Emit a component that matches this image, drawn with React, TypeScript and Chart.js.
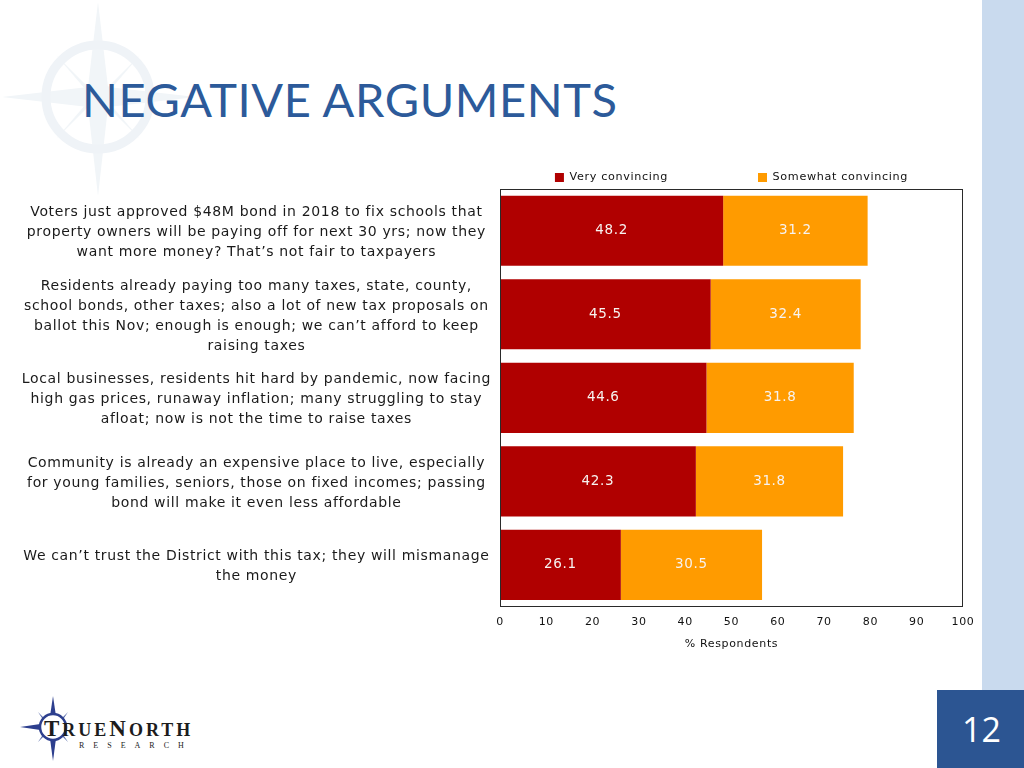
import React, { useEffect, useRef } from "react";
import { Chart, registerables } from "chart.js";

Chart.register(...registerables);

// ---------- data ----------
const categories: string[][] = [
  [
    "Voters just approved $48M bond in 2018 to fix schools that",
    "property owners will be paying off for next 30 yrs; now they",
    "want more money? That’s not fair to taxpayers",
  ],
  [
    "Residents already paying too many taxes, state, county,",
    "school bonds, other taxes; also a lot of new tax proposals on",
    "ballot this Nov; enough is enough; we can’t afford to keep",
    "raising taxes",
  ],
  [
    "Local businesses, residents hit hard by pandemic, now facing",
    "high gas prices, runaway inflation; many struggling to stay",
    "afloat; now is not the time to raise taxes",
  ],
  [
    "Community is already an expensive place to live, especially",
    "for young families, seniors, those on fixed incomes; passing",
    "bond will make it even less affordable",
  ],
  [
    "We can’t trust the District with this tax; they will mismanage",
    "the money",
  ],
];
const veryConvincing: number[] = [48.2, 45.5, 44.6, 42.3, 26.1];
const somewhatConvincing: number[] = [31.2, 32.4, 31.8, 31.8, 30.5];
const seriesNames: string[] = ["Very convincing", "Somewhat convincing"];
const xMin = 0;
const xMax = 100;
const xStep = 10;
const xTitle = "% Respondents";
const pageTitle = "NEGATIVE ARGUMENTS";
const pageNumber = "12";

const RED = "#b00000";
const ORANGE = "#ff9b00";
const FONT = "'DejaVu Sans', sans-serif";
const LS = "0.65px";

const textSpacing = {
  id: "textSpacing",
  beforeLayout(chart: any) {
    chart.ctx.letterSpacing = LS;
    const lg = chart.legend;
    if (lg && !lg.__trim) {
      const orig = lg.fit;
      lg.fit = function (this: any) {
        orig.call(this);
        this.height = Math.max(0, this.height - 4);
      };
      lg.__trim = true;
    }
  },
  beforeDraw(chart: any) {
    chart.ctx.letterSpacing = LS;
  },
};

const barLabels = {
  id: "barLabels",
  afterDatasetsDraw(chart: any) {
    const ctx = chart.ctx;
    ctx.save();
    ctx.font = `13.5px ${FONT}`;
    ctx.fillStyle = "#f7f3f0";
    ctx.textAlign = "center";
    ctx.textBaseline = "middle";
    chart.data.datasets.forEach((ds: any, di: number) => {
      const meta = chart.getDatasetMeta(di);
      meta.data.forEach((bar: any, i: number) => {
        const p = bar.getProps(["x", "y", "base"], true);
        ctx.fillText(Number(ds.data[i]).toFixed(1), (p.x + p.base) / 2, p.y);
      });
    });
    ctx.restore();
  },
};

const areaBorder = {
  id: "areaBorder",
  afterDatasetsDraw(chart: any) {
    const { left, top, right, bottom } = chart.chartArea;
    const ctx = chart.ctx;
    ctx.save();
    ctx.strokeStyle = "#2a2a2a";
    ctx.lineWidth = 1;
    ctx.strokeRect(Math.round(left) + 0.5, Math.round(top) + 0.5, Math.round(right - left) - 1, Math.round(bottom - top) - 1);
    ctx.restore();
  },
};

function ChartBox() {
  const ref = useRef<HTMLCanvasElement | null>(null);
  useEffect(() => {
    if (!ref.current) return;
    const chart = new Chart(ref.current, {
      type: "bar",
      data: {
        labels: categories,
        datasets: [
          {
            label: seriesNames[0],
            data: veryConvincing,
            backgroundColor: RED,
            borderWidth: 0,
            categoryPercentage: 1,
            barPercentage: 0.84,
          },
          {
            label: seriesNames[1],
            data: somewhatConvincing,
            backgroundColor: ORANGE,
            borderWidth: 0,
            categoryPercentage: 1,
            barPercentage: 0.84,
          },
        ],
      },
      options: {
        indexAxis: "y",
        responsive: false,
        animation: false,
        devicePixelRatio: 1,
        layout: { padding: { left: 0, right: 27, top: 0, bottom: 0 } },
        plugins: {
          tooltip: { enabled: false },
          legend: {
            display: true,
            position: "top",
            fullSize: false,
            align: "center",
            labels: {
              boxWidth: 9,
              boxHeight: 9,
              padding: 10,
              color: "#111",
              font: { family: FONT, size: 11.2 },
              generateLabels: (chart: any) => {
                const items = Chart.defaults.plugins.legend.labels.generateLabels(chart);
                return items.map((it: any, i: number) => ({
                  ...it,
                  text: i === 0 ? it.text + "\u00a0".repeat(19) : it.text,
                  lineWidth: 0,
                }));
              },
            },
          },
        },
        scales: {
          x: {
            stacked: true,
            min: xMin,
            max: xMax,
            grid: { display: false, drawTicks: false },
            border: { display: false },
            ticks: {
              stepSize: xStep,
              padding: 9,
              color: "#111",
              font: { family: FONT, size: 11 },
            },
            title: {
              display: true,
              text: xTitle,
              color: "#111",
              font: { family: FONT, size: 11 },
              padding: { top: 0, bottom: 6 },
            },
          },
          y: {
            stacked: true,
            grid: { display: false, drawTicks: false },
            border: { display: false },
            afterFit: (scale: any) => {
              scale.width = 500;
            },
            ticks: {
              autoSkip: false,
              crossAlign: "center",
              padding: 9,
              labelOffset: 2,
              color: "#1a1a1a",
              font: { family: FONT, size: 14, lineHeight: 1.43 },
            },
          },
        },
      },
      plugins: [textSpacing, barLabels, areaBorder],
    } as any);
    return () => chart.destroy();
  }, []);
  return <canvas ref={ref} width={990} height={497} style={{ display: "block" }} />;
}

function Watermark() {
  return (
    <svg width={200} height={200} style={{ position: "absolute", left: 0, top: 0 }}>
      <g fill="#f1f5f8" stroke="none">
        <polygon points="98,2 108,87 196,97 108,107 98,196 88,107 2,97 88,87" />
        <polygon points="98,97 140,55 104,97 140,139 98,97 56,139 92,97 56,55" />
      </g>
      <circle cx={98} cy={97} r={52} fill="none" stroke="#eff3f7" strokeWidth={9} />
    </svg>
  );
}

function Logo() {
  return (
    <div style={{ position: "absolute", left: 0, top: 690, width: 210, height: 78 }}>
      <svg width={90} height={78} style={{ position: "absolute", left: 0, top: 0 }}>
        <polygon points="53,6 57,33 53,37 49,33" fill="#2d3f8e" />
        <polygon points="53,71 57,41 53,37 49,41" fill="#2d3f8e" />
        <polygon points="20,37 47,33 53,37 47,41" fill="#2d3f8e" />
        <polygon points="53,37 68,22 58,37 68,52 53,37 38,52 48,37 38,22" fill="#5a6cab" />
        <circle cx={53} cy={37} r={13} fill="#ffffff" stroke="#2d3f8e" strokeWidth={2.5} />
      </svg>
      <div
        style={{
          position: "absolute",
          left: 44,
          top: 27,
          fontFamily: "'Liberation Serif', serif",
          color: "#1c1c1c",
          letterSpacing: "3px",
          whiteSpace: "nowrap",
          lineHeight: 1,
          fontWeight: 600,
        }}
      >
        <span style={{ fontSize: 23 }}>T</span>
        <span style={{ fontSize: 18 }}>RUE</span>
        <span style={{ fontSize: 23 }}>N</span>
        <span style={{ fontSize: 18 }}>ORTH</span>
      </div>
      <div
        style={{
          position: "absolute",
          left: 79,
          top: 52,
          fontFamily: "'Liberation Serif', serif",
          fontSize: 8,
          color: "#1c1c1c",
          letterSpacing: "9px",
          whiteSpace: "nowrap",
          lineHeight: 1,
        }}
      >
        RESEARCH
      </div>
    </div>
  );
}

export default function App() {
  return (
    <div
      style={{
        position: "absolute",
        left: 0,
        top: 0,
        width: 1024,
        height: 768,
        overflow: "hidden",
        background: "#ffffff",
      }}
    >
      <Watermark />
      <div style={{ position: "absolute", left: 982, top: 0, width: 42, height: 768, background: "#c9daee" }} />
      <div
        style={{
          position: "absolute",
          left: 82,
          top: 71,
          fontFamily: "Lato, sans-serif",
          fontSize: 47,
          color: "#2c5a9a",
          whiteSpace: "nowrap",
          lineHeight: 1.2,
          letterSpacing: "0.6px",
        }}
      >
        {pageTitle}
      </div>
      <div style={{ position: "absolute", left: 0, top: 160 }}>
        <ChartBox />
      </div>
      <Logo />
      <div
        style={{
          position: "absolute",
          left: 937,
          top: 690,
          width: 87,
          height: 78,
          background: "#2c5592",
          color: "#ffffff",
          fontFamily: "'Open Sans', sans-serif",
          fontSize: 34,
          display: "flex",
          alignItems: "center",
          justifyContent: "center",
          paddingLeft: 2,
          boxSizing: "border-box",
        }}
      >
        {pageNumber}
      </div>
    </div>
  );
}
